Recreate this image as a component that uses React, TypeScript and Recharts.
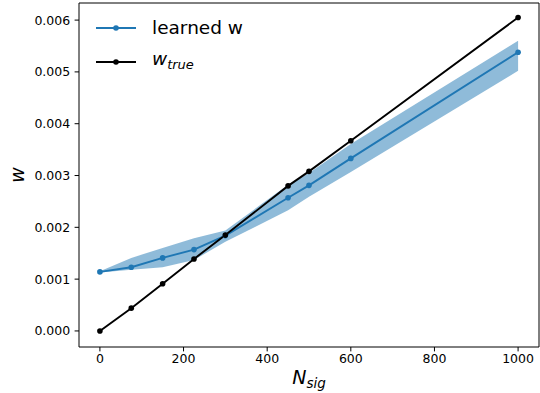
import React from 'react';
import { ComposedChart, Line, Area, XAxis, YAxis, Legend, Label, ReferenceLine } from 'recharts';

const nSig = [0, 75, 150, 225, 300, 450, 500, 600, 1000];
const learnedW = [0.00114, 0.00123, 0.00141, 0.00157, 0.00184, 0.00257, 0.00281, 0.00333, 0.00538];
const bandLow = [0.00113, 0.00118, 0.00123, 0.00137, 0.00172, 0.00233, 0.00259, 0.00307, 0.00502];
const bandHigh = [0.00115, 0.00141, 0.0016, 0.00179, 0.00194, 0.00282, 0.00305, 0.00361, 0.0056];
const trueW = [0.0, 0.00044, 0.00091, 0.00139, 0.00185, 0.0028, 0.00308, 0.00367, 0.00605];
const xTicks = [0, 200, 400, 600, 800, 1000];
const yTicks = [0, 0.001, 0.002, 0.003, 0.004, 0.005, 0.006];
const xDomain = [-50, 1050];
const yDomain = [-0.00031, 0.00633];

const data = nSig.map((n, i) => ({
  n,
  learned: learnedW[i],
  band: [bandLow[i], bandHigh[i]],
  wtrue: trueW[i],
}));

const FONT = 'DejaVu Sans';
const BLUE = '#1f77b4';

const LegendContent = () => (
  <div style={{ fontFamily: FONT, fontSize: 18.5, color: '#000', lineHeight: '31px' }}>
    <div style={{ display: 'flex', alignItems: 'center' }}>
      <svg width={56} height={12}>
        <line x1={0} y1={6} x2={40} y2={6} stroke={BLUE} strokeWidth={1.9} />
        <circle cx={20} cy={6} r={2.8} fill={BLUE} />
      </svg>
      <span>learned w</span>
    </div>
    <div style={{ display: 'flex', alignItems: 'center' }}>
      <svg width={56} height={12}>
        <line x1={0} y1={6} x2={40} y2={6} stroke="#000" strokeWidth={1.9} />
        <circle cx={20} cy={6} r={2.8} fill="#000" />
      </svg>
      <span>
        <i>w</i>
        <sub style={{ fontSize: 13, fontStyle: 'italic', verticalAlign: '-4px' }}>true</sub>
      </span>
    </div>
  </div>
);

const XLabel = (props: any) => {
  const vb = props.viewBox || {};
  const cx = vb.x + vb.width / 2;
  return (
    <text x={cx} y={384} textAnchor="middle" fontFamily={FONT} fontSize={19} fontStyle="italic" fill="#000">
      <tspan>N</tspan>
      <tspan dy={4} fontSize={13.5}>sig</tspan>
    </text>
  );
};

const YLabel = (props: any) => {
  const vb = props.viewBox || {};
  const cy = vb.y + vb.height / 2;
  return (
    <text
      x={0}
      y={0}
      transform={`translate(24, ${cy}) rotate(-90)`}
      textAnchor="middle"
      fontFamily={FONT}
      fontSize={19}
      fontStyle="italic"
      fill="#000"
    >
      w
    </text>
  );
};

const tickStyle = { fontFamily: FONT, fontSize: 12.5, fill: '#000' };

export default function App() {
  return (
    <div style={{ position: 'absolute', left: 0, top: 0 }}>
      <ComposedChart width={540} height={393} data={data} margin={{ top: 3, right: 1, bottom: 0, left: 0 }}>
        <XAxis
          dataKey="n"
          type="number"
          domain={xDomain}
          ticks={xTicks}
          allowDataOverflow
          height={46}
          tick={tickStyle}
          tickSize={4.4}
          tickMargin={3}
          stroke="#000"
          tickLine={{ stroke: '#000' }}
          axisLine={{ stroke: '#000' }}
        >
          <Label content={<XLabel />} />
        </XAxis>
        <YAxis
          type="number"
          domain={yDomain}
          ticks={yTicks}
          allowDataOverflow
          width={79}
          tick={tickStyle}
          tickFormatter={(v: number) => v.toFixed(3)}
          tickSize={4.4}
          tickMargin={4.4}
          tickLine={{ stroke: '#000' }}
          axisLine={{ stroke: '#000' }}
        >
          <Label content={<YLabel />} />
        </YAxis>
        <ReferenceLine y={yDomain[1]} stroke="#000" strokeWidth={1} ifOverflow="extendDomain" />
        <ReferenceLine x={xDomain[1]} stroke="#000" strokeWidth={1} ifOverflow="extendDomain" />
        <Area
          dataKey="band"
          type="linear"
          stroke="none"
          fill={BLUE}
          fillOpacity={0.5}
          isAnimationActive={false}
          activeDot={false}
          legendType="none"
        />
        <Line
          dataKey="learned"
          type="linear"
          stroke={BLUE}
          strokeWidth={1.9}
          dot={{ r: 2.8, fill: BLUE, stroke: 'none' }}
          activeDot={false}
          isAnimationActive={false}
        />
        <Line
          dataKey="wtrue"
          type="linear"
          stroke="#000"
          strokeWidth={1.9}
          dot={{ r: 2.8, fill: '#000', stroke: 'none' }}
          activeDot={false}
          isAnimationActive={false}
        />
        <Legend
          layout="horizontal"
          verticalAlign="middle"
          align="center"
          content={<LegendContent />}
          wrapperStyle={{ position: 'absolute', left: 96, top: 12, width: 'auto', height: 'auto' }}
        />
      </ComposedChart>
    </div>
  );
}
